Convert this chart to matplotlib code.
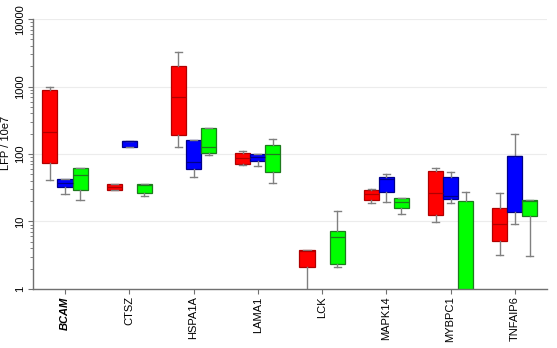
import matplotlib
matplotlib.use("Agg")
import matplotlib.pyplot as plt
from matplotlib.ticker import LogLocator, NullFormatter

plt.rcParams['font.family'] = ['Liberation Sans', 'DejaVu Sans']

genes = ["BCAM", "CTSZ", "HSPA1A", "LAMA1", "LCK", "MAPK14", "MYBPC1", "TNFAIP6"]

# each entry: (whisker low, box low, median, box high, whisker high); None = not shown
red = [
    (41, 74.5, 215, 897, 980),
    (29.3, 29.3, 32.6, 36, 36),
    (126, 190, 689, 1990, 3260),
    (68, 71.3, 86.6, 104, 111),
    (0.5, 2.12, 3.7, 3.8, 3.8),
    (18.8, 20.6, 25.5, 29.3, 30.6),
    (9.9, 12.6, 26.7, 55.5, 62.8),
    (3.13, 5.17, 9.15, 15.8, 26.7),
]
blue = [
    (25.5, 32, 37.6, 42.2, 42.2),
    (126, 126, 155, 157, 157),
    (45.2, 59.4, 75.5, 162, 162),
    (66.5, 78.2, 89.7, 99.3, 99.3),
    None,
    (19.6, 27.3, 42.3, 46.2, 51.2),
    (18.8, 21.5, 24.1, 46.2, 54.8),
    (9.25, 13.8, 93, 94.7, 197),
]
green = [
    (20.8, 29.6, 49, 62, 62),
    (24.1, 26.2, 34.7, 36.3, 36.3),
    (96, 105, 127, 242, 242),
    (36.8, 54.8, 100, 135, 166),
    (2.08, 2.33, 5.8, 7.27, 14.4),
    (13, 16, 19.4, 22, 22),
    (0.3, 0.5, 0.7, 20.1, 27.3),
    (3.12, 12, 20, 20.6, 20.6),
]

groups = [
    (red, -0.234, "#ff0000", "#b00000"),
    (blue, 0.0, "#0000ff", "#00008a"),
    (green, 0.234, "#00ff00", "#1e7a1e"),
]

fig = plt.figure(figsize=(5.57, 3.48), dpi=100)
ax = fig.add_axes([0.059, 0.170, 0.923, 0.775])

for data, off, face, dark in groups:
    stats = []
    pos = []
    for i, d in enumerate(data):
        if d is None:
            continue
        lo, q1, med, q3, hi = d
        stats.append(dict(whislo=lo, q1=q1, med=med, q3=q3, whishi=hi, fliers=[]))
        pos.append(i + 1 + off)
    ax.bxp(stats, positions=pos, widths=0.234, patch_artist=True,
           showfliers=False, capwidths=0.11,
           boxprops=dict(facecolor=face, edgecolor=dark, linewidth=0.9),
           medianprops=dict(color=dark, linewidth=0.9),
           whiskerprops=dict(color="#808080", linewidth=1.0),
           capprops=dict(color="#808080", linewidth=1.0))

ax.set_yscale("log")
ax.set_ylim(1, 10000)
ax.set_xlim(0.5, 8.5)
ax.set_xticks(range(1, len(genes) + 1))
ax.set_xticklabels(genes, rotation=90, fontsize=8)
ax.get_xticklabels()[0].set_fontstyle("italic")
ax.get_xticklabels()[0].set_fontweight("bold")

ax.yaxis.set_minor_locator(LogLocator(base=10, subs=range(2, 10), numticks=50))
ax.yaxis.set_minor_formatter(NullFormatter())
ax.set_yticks([1, 10, 100, 1000, 10000])
ax.set_yticklabels(["1", "10", "100", "1000", "10000"], rotation=90, va="center", fontsize=8)
ax.set_ylabel("LFP / 10e7", fontsize=8)
ax.yaxis.set_label_coords(-0.043, 0.54)

ax.grid(axis="y", which="major", color="#ececec", linewidth=0.8)
ax.set_axisbelow(True)
for s in ["top", "right"]:
    ax.spines[s].set_visible(False)
for s in ["left", "bottom"]:
    ax.spines[s].set_color("#707070")
    ax.spines[s].set_linewidth(1.0)
ax.tick_params(axis="both", which="major", length=3.5, color="#707070", pad=2)
ax.tick_params(axis="y", which="minor", length=2, color="#707070")

fig.savefig("out.png", dpi=100)
